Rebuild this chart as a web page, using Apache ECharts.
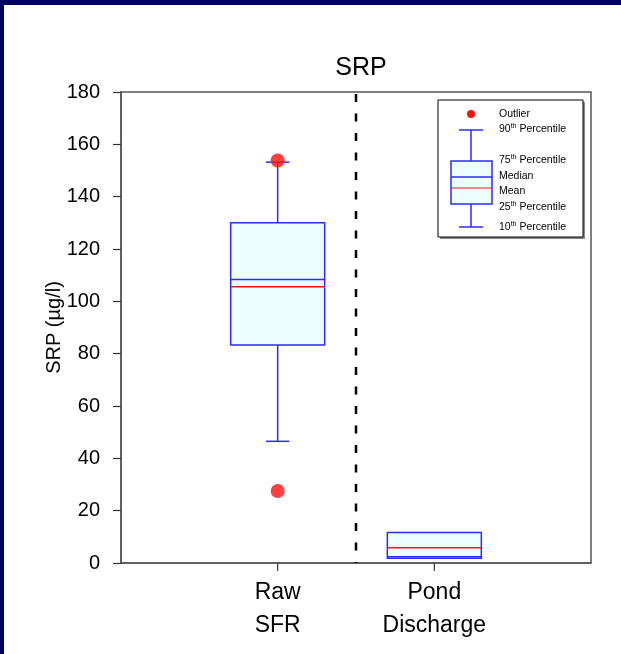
<!DOCTYPE html>
<html>
<head>
<meta charset="utf-8">
<script src="https://cdn.jsdelivr.net/npm/echarts@6/dist/echarts.min.js"></script>
<style>
html,body{margin:0;padding:0;background:#fff;}
#chart{width:621px;height:654px;}
</style>
</head>
<body>
<div id="chart"></div>
<script>
// ---- data ----
var categories = ['Raw\nSFR', 'Pond\nDischarge'];
var p10    = [46.5, null];
var q1     = [83.3, 1.8];
var median = [108.3, 2.4];
var mean   = [105.6, 5.8];
var q3     = [130.0, 11.7];
var p90    = [153.2, null];
var outliers = [[0, 153.8], [0, 27.5]]; // [category index, value]
var yTicks = [0, 20, 40, 60, 80, 100, 120, 140, 160, 180];
var dividerAt = 1.5; // between the two groups (x position in category units, 1-based)

var BLUE = '#2b2bff', RED = '#ff1010', FILL = '#ebffff';

var boxData = categories.map(function (c, i) {
  return [i + 1, p10[i], q1[i], median[i], mean[i], q3[i], p90[i]];
});
var outlierData = outliers.map(function (o) { return [o[0] + 1, o[1]]; });

var chart = echarts.init(document.getElementById('chart'));

function renderBox(params, api) {
  var x = api.value(0);
  var vals = [api.value(1), api.value(2), api.value(3), api.value(4), api.value(5), api.value(6)];
  var unit = api.size([1, 0])[0];
  var half = unit * 0.3;
  var capHalf = unit * 0.075;
  var cx = api.coord([x, 0])[0];
  function Y(v) { return api.coord([x, v])[1]; }
  var ch = [];
  var lw = 1.5;
  if (!isNaN(vals[5]) && vals[5] != null) {
    ch.push({type:'line', shape:{x1:cx, y1:Y(vals[4]), x2:cx, y2:Y(vals[5])}, style:{stroke:BLUE, lineWidth:lw}});
    ch.push({type:'line', shape:{x1:cx-capHalf, y1:Y(vals[5]), x2:cx+capHalf, y2:Y(vals[5])}, style:{stroke:BLUE, lineWidth:lw}});
  }
  if (!isNaN(vals[0]) && vals[0] != null) {
    ch.push({type:'line', shape:{x1:cx, y1:Y(vals[1]), x2:cx, y2:Y(vals[0])}, style:{stroke:BLUE, lineWidth:lw}});
    ch.push({type:'line', shape:{x1:cx-capHalf, y1:Y(vals[0]), x2:cx+capHalf, y2:Y(vals[0])}, style:{stroke:BLUE, lineWidth:lw}});
  }
  var top = Y(vals[4]), bot = Y(vals[1]);
  ch.push({type:'rect', shape:{x:cx-half, y:top, width:half*2, height:bot-top}, style:{fill:FILL, stroke:BLUE, lineWidth:lw}});
  ch.push({type:'line', shape:{x1:cx-half, y1:Y(vals[2]), x2:cx+half, y2:Y(vals[2])}, style:{stroke:BLUE, lineWidth:lw}});
  ch.push({type:'line', shape:{x1:cx-half, y1:Y(vals[3]), x2:cx+half, y2:Y(vals[3])}, style:{stroke:RED, lineWidth:lw}});
  return {type:'group', children:ch};
}

function renderDivider(params, api) {
  var x = api.value(0);
  var p1 = api.coord([x, yTicks[yTicks.length-1]]);
  var p0 = api.coord([x, yTicks[0]]);
  return {type:'line', shape:{x1:p1[0], y1:p1[1]+2, x2:p0[0], y2:p0[1]},
    style:{stroke:'#000', lineWidth:2.5, lineDash:[8,11.5]}};
}

var FONT = 'Liberation Sans, Arial, sans-serif';

// legend (decoration)
var LX = 438, LY = 100;
var LFS = 10.5;
function legText(y, main, sup, rest) {
  if (sup) {
    return {type:'text', x:LX+61, y:y, style:{
      text:'{a|' + main + '}{s|' + sup + '}{a|' + rest + '}',
      rich:{a:{fontSize:LFS, fontFamily:FONT, fill:'#000'},
            s:{fontSize:7, fontFamily:FONT, fill:'#000', verticalAlign:'top', padding:[0,0,5,0]}},
      verticalAlign:'middle'}};
  }
  return {type:'text', x:LX+61, y:y, style:{text:main, fontSize:LFS, fontFamily:FONT, fill:'#000', verticalAlign:'middle'}};
}
var legend = {
  type:'group', z:50, children:[
    {type:'rect', shape:{x:LX+2, y:LY+2, width:145, height:137}, style:{fill:'#888'}},
    {type:'rect', shape:{x:LX, y:LY, width:145, height:137}, style:{fill:'#fff', stroke:'#000', lineWidth:1}},
    {type:'circle', shape:{cx:LX+33, cy:LY+14, r:4}, style:{fill:RED}},
    {type:'line', shape:{x1:LX+21, y1:LY+30, x2:LX+45, y2:LY+30}, style:{stroke:BLUE, lineWidth:1.5}},
    {type:'line', shape:{x1:LX+33, y1:LY+30, x2:LX+33, y2:LY+61}, style:{stroke:BLUE, lineWidth:1.5}},
    {type:'rect', shape:{x:LX+13, y:LY+61, width:41, height:43}, style:{fill:FILL, stroke:BLUE, lineWidth:1.5}},
    {type:'line', shape:{x1:LX+13, y1:LY+77, x2:LX+54, y2:LY+77}, style:{stroke:BLUE, lineWidth:1.5}},
    {type:'line', shape:{x1:LX+13, y1:LY+88, x2:LX+54, y2:LY+88}, style:{stroke:RED, lineWidth:1.2}},
    {type:'line', shape:{x1:LX+33, y1:LY+104, x2:LX+33, y2:LY+127}, style:{stroke:BLUE, lineWidth:1.5}},
    {type:'line', shape:{x1:LX+21, y1:LY+127, x2:LX+45, y2:LY+127}, style:{stroke:BLUE, lineWidth:1.5}},
    legText(LY+14, 'Outlier'),
    legText(LY+29, '90', 'th', ' Percentile'),
    legText(LY+60, '75', 'th', ' Percentile'),
    legText(LY+76, 'Median'),
    legText(LY+91, 'Mean'),
    legText(LY+107, '25', 'th', ' Percentile'),
    legText(LY+127, '10', 'th', ' Percentile')
  ]
};

chart.setOption({
  animation:false,
  backgroundColor:'#fff',
  title:{text:'SRP', left:356, top:51, textAlign:'center',
    textStyle:{fontSize:25, fontWeight:'normal', fontFamily:FONT, color:'#000'}},
  grid:{left:121, top:92, right:30, bottom:91, show:true, borderColor:'#555', borderWidth:1.5, backgroundColor:'transparent'},
  xAxis:[{
    type:'value', min:0, max:3, interval:1,
    axisLine:{show:true, lineStyle:{color:'#555', width:1.5}},
    axisTick:{show:false},
    splitLine:{show:false},
    axisLabel:{show:true, margin:13, fontSize:23, lineHeight:33, fontFamily:FONT, color:'#000',
      formatter:function(v){ var i = Math.round(v) - 1; return (i >= 0 && i < categories.length && Math.abs(v - Math.round(v)) < 1e-9) ? categories[i] : ''; }}
  }],
  yAxis:[{
    type:'value', min:yTicks[0], max:yTicks[yTicks.length-1], interval:yTicks[1]-yTicks[0],
    name:'SRP (µg/l)', nameLocation:'middle', nameGap:57, nameMoveOverlap:false,
    nameTextStyle:{fontSize:20, fontFamily:FONT, color:'#000'},
    axisLine:{show:true, lineStyle:{color:'#555', width:1.5}},
    axisTick:{show:true, inside:false, length:8, lineStyle:{color:'#333', width:1.2}},
    splitLine:{show:false},
    axisLabel:{margin:21, fontSize:20, fontFamily:FONT, color:'#000'}
  }],
  graphic:[
    {type:'rect', shape:{x:0, y:0, width:621, height:5}, style:{fill:'#00005c'}, z:100},
    {type:'rect', shape:{x:0, y:0, width:4, height:654}, style:{fill:'#00005c'}, z:100},
    legend
  ],
  series:[
    {type:'custom', renderItem:function(params, api){
        var x = api.value(0);
        var p = api.coord([x, 0]);
        return {type:'line', shape:{x1:p[0], y1:p[1], x2:p[0], y2:p[1]+8}, style:{stroke:'#333', lineWidth:1.2}};
      }, data:boxData.map(function(d){return [d[0]];}), encode:{x:0}, silent:true, clip:false},
    {type:'custom', renderItem:renderDivider, data:[[dividerAt]], encode:{x:0}, silent:true},
    {type:'custom', renderItem:renderBox, data:boxData, encode:{x:0, y:[1,2,3,4,5,6]}, silent:true},
    {type:'scatter', data:outlierData, symbol:'circle', symbolSize:14, itemStyle:{color:RED}, silent:true, z:5}
  ]
});
</script>
</body>
</html>
